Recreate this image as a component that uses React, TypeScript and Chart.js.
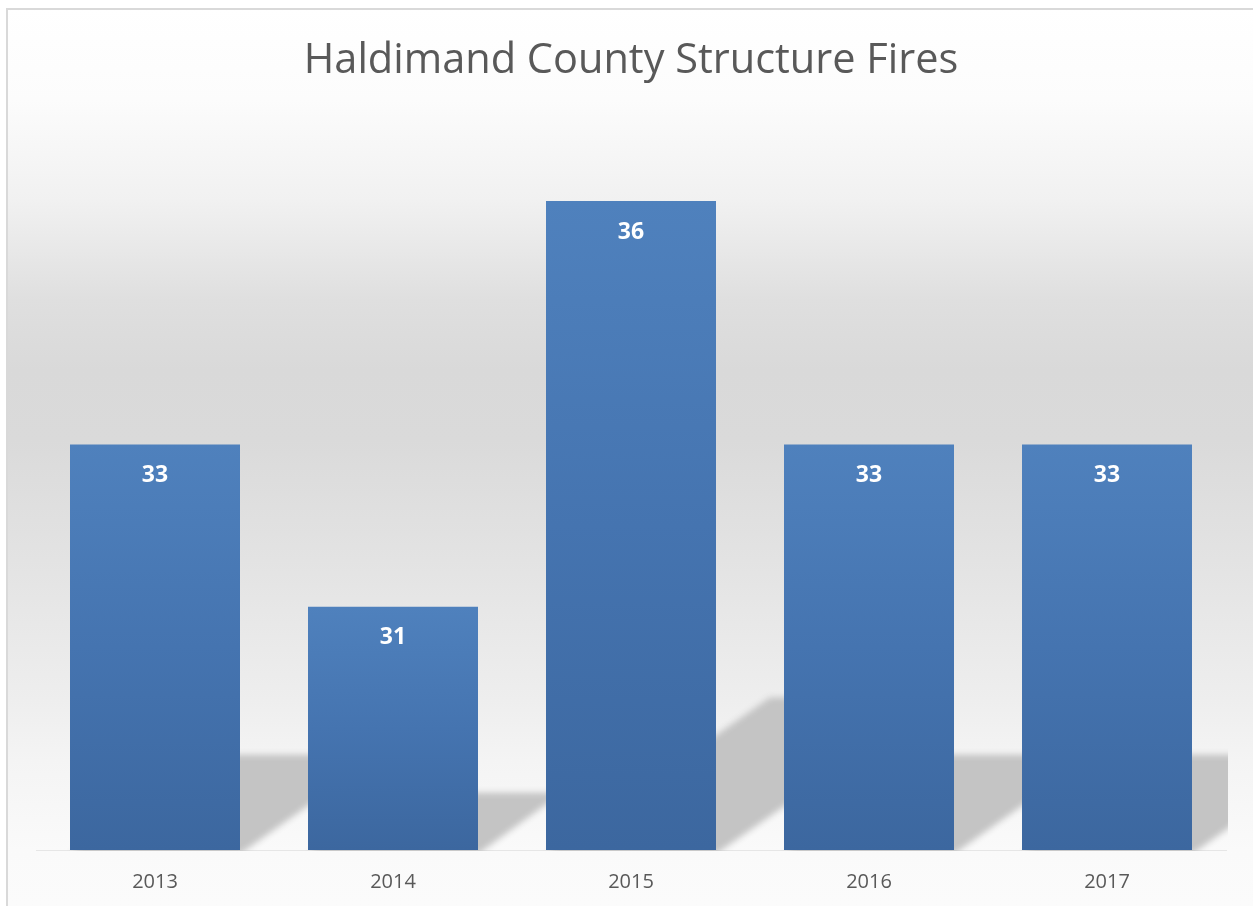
import { useEffect, useRef } from "react";
import { Chart, registerables } from "chart.js";

Chart.register(...registerables);

const chartTitle = "Haldimand County Structure Fires";
const categories = ["2013", "2014", "2015", "2016", "2017"];
const fires = [33, 31, 36, 33, 33];
const axisMin = 28;
const axisMax = 37;

const W = 1253;
const H = 906;
const FONT = "'Open Sans', 'DejaVu Sans', sans-serif";

const bgStops: [number, string][] = [
  [8, "#ffffff"],
  [100, "#fcfcfc"],
  [200, "#f1f1f1"],
  [300, "#dfdfdf"],
  [370, "#d9d9d9"],
  [440, "#dadada"],
  [560, "#e3e3e3"],
  [700, "#eeeeee"],
  [760, "#f4f4f4"],
  [850, "#fafafa"],
  [906, "#fbfbfb"],
];

const backgroundPlugin = {
  id: "excelBackground",
  beforeDraw(chart: any) {
    const ctx = chart.ctx as CanvasRenderingContext2D;
    ctx.save();
    ctx.fillStyle = "#ffffff";
    ctx.fillRect(0, 0, chart.width, chart.height);
    const g = ctx.createLinearGradient(0, 0, 0, chart.height);
    bgStops.forEach(([y, c]) => g.addColorStop(Math.min(1, y / chart.height), c));
    ctx.fillStyle = g;
    ctx.fillRect(6, 8, chart.width - 6, chart.height - 8);
    ctx.strokeStyle = "#d9d9d9";
    ctx.lineWidth = 2;
    ctx.beginPath();
    ctx.moveTo(7, chart.height + 2);
    ctx.lineTo(7, 9);
    ctx.lineTo(chart.width + 2, 9);
    ctx.stroke();
    ctx.restore();
  },
};

const shadowPlugin = {
  id: "barShadow",
  beforeDatasetsDraw(chart: any) {
    const ctx = chart.ctx as CanvasRenderingContext2D;
    const area = chart.chartArea;
    const meta = chart.getDatasetMeta(0);
    const bottom = chart.scales.y.getPixelForValue(axisMin);
    const k = 0.235;
    const s = 0.345;
    const OFF = 5000;
    ctx.save();
    ctx.beginPath();
    ctx.rect(area.left, area.top, area.right - area.left + 2, bottom - area.top + 1);
    ctx.clip();
    ctx.fillStyle = "#c4c4c4";
    ctx.shadowColor = "#c4c4c4";
    ctx.shadowBlur = 6;
    ctx.shadowOffsetX = OFF;
    ctx.shadowOffsetY = 0;
    meta.data.forEach((el: any) => {
      const x0 = el.x - el.width / 2 - OFF;
      const x1 = el.x + el.width / 2 - OFF;
      const h = bottom - el.y;
      ctx.beginPath();
      ctx.moveTo(x0, bottom + 4);
      ctx.lineTo(x1, bottom + 4);
      ctx.lineTo(x1 + h * s, bottom - h * k);
      ctx.lineTo(x0 + h * s, bottom - h * k);
      ctx.closePath();
      ctx.fill();
    });
    ctx.restore();
  },
};

const labelPlugin = {
  id: "barLabels",
  afterDatasetsDraw(chart: any) {
    const ctx = chart.ctx as CanvasRenderingContext2D;
    const meta = chart.getDatasetMeta(0);
    ctx.save();
    ctx.fillStyle = "#ffffff";
    ctx.font = `bold 23px ${FONT}`;
    ctx.textAlign = "center";
    ctx.textBaseline = "middle";
    meta.data.forEach((el: any, i: number) => {
      ctx.fillText(String(fires[i]), el.x, el.y + 31);
    });
    ctx.restore();
  },
};

export default function App() {
  const ref = useRef<HTMLCanvasElement | null>(null);

  useEffect(() => {
    if (!ref.current) return;
    const chart = new Chart(ref.current, {
      type: "bar",
      data: {
        labels: categories,
        datasets: [
          {
            data: fires,
            borderWidth: 0,
            categoryPercentage: 1,
            barPercentage: 1 / 1.4,
            backgroundColor: (c: any) => {
              const ch = c.chart;
              const y = ch.scales?.y;
              if (!ch.chartArea || !y || typeof c.raw !== "number") return "#4a7ab5";
              const top = y.getPixelForValue(c.raw);
              const base = y.getPixelForValue(axisMin);
              const g = ch.ctx.createLinearGradient(0, top, 0, base);
              g.addColorStop(0, "#4f81bd");
              g.addColorStop(0.5, "#4574b0");
              g.addColorStop(1, "#3c679f");
              return g;
            },
          },
        ],
      },
      options: {
        responsive: false,
        animation: false,
        devicePixelRatio: 1,
        layout: { padding: { left: 36, right: 27, top: 0, bottom: 0 } },
        plugins: {
          legend: { display: false },
          tooltip: { enabled: false },
          title: {
            display: true,
            text: chartTitle,
            color: "#595959",
            font: { family: FONT, size: 41.5, weight: "normal", lineHeight: 1.2 },
            padding: { top: 36, bottom: 34.2 },
          },
        },
        scales: {
          x: {
            grid: { display: false, drawTicks: false },
            border: { display: true, color: "#e6e6e6" },
            ticks: {
              color: "#595959",
              font: { family: FONT, size: 20 },
              padding: 20,
              maxRotation: 0,
            },
            afterFit(scale: any) {
              scale.height = 56;
            },
          },
          y: {
            display: false,
            min: axisMin,
            max: axisMax,
          },
        },
      },
      plugins: [backgroundPlugin, shadowPlugin, labelPlugin],
    });
    return () => chart.destroy();
  }, []);

  return (
    <div style={{ position: "absolute", left: 0, top: 0, width: W, height: H }}>
      <canvas ref={ref} width={W} height={H} style={{ display: "block", width: W, height: H }} />
    </div>
  );
}
